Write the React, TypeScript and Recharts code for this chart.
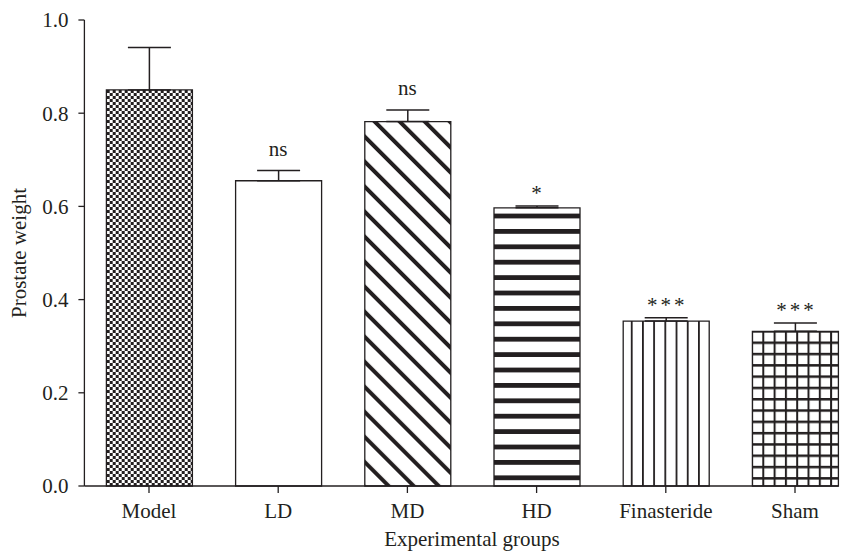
import React from 'react';
import {
  ComposedChart,
  Bar,
  Line,
  Cell,
  XAxis,
  YAxis,
  ErrorBar,
  LabelList,
} from 'recharts';

// values
const groups: string[] = ['Model', 'LD', 'MD', 'HD', 'Finasteride', 'Sham'];
const meanWeight: number[] = [0.85, 0.655, 0.782, 0.597, 0.354, 0.332];
const semWeight: number[] = [0.091, 0.022, 0.025, 0.004, 0.007, 0.018];
const significance: string[] = ['', 'ns', 'ns', '*', '***', '***'];
const yTicks: number[] = [0, 0.2, 0.4, 0.6, 0.8, 1.0];

const fills: string[] = ['url(#checker)', '#ffffff', 'url(#diag)', 'url(#hstripe)', 'url(#vline)', 'url(#grid)'];

const INK = '#231f20';
const FONT = '"Liberation Serif", "Times New Roman", serif';

const chartData = groups.map((g, i) => ({
  group: g,
  weight: meanWeight[i],
  err: [0, semWeight[i]],
  top: meanWeight[i] + semWeight[i],
  sig: significance[i],
}));

const SigLabel = (props: any) => {
  const { x, y, value } = props;
  if (!value) return null;
  const stars = value !== 'ns';
  return (
    <text
      x={stars ? x + 1.5 : x}
      y={y - (stars ? 6 : 15)}
      textAnchor="middle"
      fontFamily={FONT}
      fontSize={21}
      letterSpacing={stars ? 3 : 0}
      fill={INK}
    >
      {value}
    </text>
  );
};

const App: React.FC = () => {
  return (
    <div
      style={{
        position: 'fixed',
        left: 0,
        top: 0,
        width: 851,
        height: 552,
        overflow: 'hidden',
        background: '#fff',
      }}
    >
      <ComposedChart
        width={870}
        height={552}
        data={chartData}
        margin={{ top: 20, right: 10.4, bottom: 0, left: 0 }}
      >
        <defs>
          <pattern id="checker" patternUnits="userSpaceOnUse" x={106.7} y={90} width={6} height={6}>
            <rect width={6} height={6} fill="#fff" />
            <rect width={3} height={3} fill={INK} />
            <rect x={3} y={3} width={3} height={3} fill={INK} />
          </pattern>
          <pattern
            id="diag"
            patternUnits="userSpaceOnUse"
            width={17.7}
            height={17.7}
            patternTransform="rotate(-45)"
          >
            <rect width={17.7} height={17.7} fill="#fff" />
            <rect width={4} height={17.7} fill={INK} />
          </pattern>
          <pattern id="hstripe" patternUnits="userSpaceOnUse" x={0} y={213.6} width={10} height={15.4}>
            <rect width={10} height={15.4} fill="#fff" />
            <rect width={10} height={4.8} fill={INK} />
          </pattern>
          <pattern id="vline" patternUnits="userSpaceOnUse" x={630.8} y={0} width={11.2} height={10}>
            <rect width={11.2} height={10} fill="#fff" />
            <rect width={1.8} height={10} fill={INK} />
          </pattern>
          <pattern id="grid" patternUnits="userSpaceOnUse" x={762.3} y={341.5} width={11.3} height={11.3}>
            <rect width={11.3} height={11.3} fill="#fff" />
            <rect width={2} height={11.3} fill={INK} />
            <rect width={11.3} height={2.5} fill={INK} />
          </pattern>
        </defs>
        <XAxis
          dataKey="group"
          height={66}
          tickSize={7}
          tickMargin={10}
          tick={{ fontFamily: FONT, fontSize: 21, fill: INK }}
          tickLine={{ stroke: INK, strokeWidth: 1.3 }}
          axisLine={{ stroke: INK, strokeWidth: 1.3, strokeDasharray: '754 200' }}
          label={{
            content: (p: any) => {
              const vb = p.viewBox;
              return (
                <text
                  x={vb.x + vb.width / 2}
                  y={546}
                  textAnchor="middle"
                  fontFamily={FONT}
                  fontSize={21}
                  fill={INK}
                >
                  Experimental groups
                </text>
              );
            },
          }}
        />
        <YAxis
          width={84.4}
          domain={[0, 1]}
          ticks={yTicks}
          tickFormatter={(v: number) => v.toFixed(1)}
          tickSize={6}
          tickMargin={10}
          tick={{ fontFamily: FONT, fontSize: 21, fill: INK }}
          tickLine={{ stroke: INK, strokeWidth: 1.3 }}
          axisLine={{ stroke: INK, strokeWidth: 1.3 }}
          label={{
            content: () => (
              <text
                x={26}
                y={253}
                transform="rotate(-90 26 253)"
                textAnchor="middle"
                fontFamily={FONT}
                fontSize={21}
                fill={INK}
              >
                Prostate weight
              </text>
            ),
          }}
        />
        <Bar
          dataKey="weight"
          barSize={86}
          stroke={INK}
          strokeWidth={1.3}
          isAnimationActive={false}
        >
          {chartData.map((d, i) => (
            <Cell key={d.group} fill={fills[i]} />
          ))}
          <ErrorBar dataKey="err" direction="y" width={21.5} stroke={INK} strokeWidth={1.5} />
        </Bar>
        <Line
          dataKey="top"
          stroke="none"
          dot={false}
          activeDot={false}
          legendType="none"
          isAnimationActive={false}
        >
          <LabelList dataKey="sig" content={SigLabel} />
        </Line>
      </ComposedChart>
    </div>
  );
};

export default App;
